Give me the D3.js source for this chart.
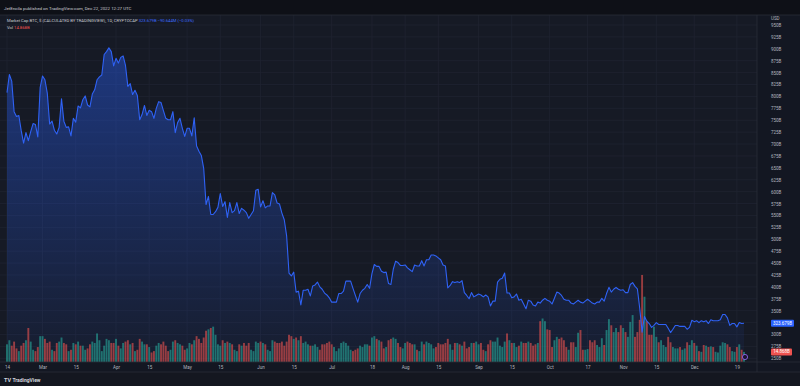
<!DOCTYPE html>
<html>
<head>
<meta charset="utf-8">
<script src="https://cdn.jsdelivr.net/npm/d3@7"></script>
<style>
  body { margin: 0; background: #131722; }
  text { font-family: Roboto, "Liberation Sans", sans-serif; }
</style>
</head>
<body>
<svg id="svgID" width="800" height="386"></svg>
<script>
// daily Market Cap BTC (in billions USD), 2022-02-14 .. 2022-12-22
var startDay = "2022-02-14";
var capFeb = [808, 846, 832, 768, 758, 760, 728, 702, 724, 707, 726, 743, 741, 715, 819];
var capMar = [843, 835, 807, 742, 748, 729, 721, 735, 795, 748, 735, 736, 717, 754, 746, 780, 776, 793, 801, 782, 778, 805, 814, 835, 841, 845, 888, 894, 902, 894, 864];
var capApr = [880, 870, 882, 885, 865, 821, 827, 804, 813, 802, 751, 762, 781, 760, 771, 768, 754, 775, 789, 787, 770, 754, 751, 751, 768, 724, 745, 754, 733, 716];
var capMay = [733, 733, 717, 755, 696, 685, 676, 649, 573, 590, 552, 552, 558, 567, 596, 569, 579, 546, 577, 556, 560, 577, 554, 565, 561, 556, 544, 552, 560, 603, 605];
var capJun = [568, 581, 566, 570, 570, 598, 593, 576, 574, 555, 541, 507, 429, 423, 431, 389, 391, 362, 393, 393, 395, 381, 402, 404, 410, 400, 395, 387, 383, 377];
var capJul = [368, 368, 368, 386, 386, 391, 412, 412, 412, 397, 382, 368, 386, 393, 397, 405, 397, 428, 447, 443, 443, 433, 430, 431, 407, 405, 437, 454, 451, 445, 445];
var capAug = [446, 440, 436, 432, 446, 444, 444, 455, 444, 457, 457, 467, 467, 465, 461, 457, 446, 444, 398, 403, 411, 409, 411, 409, 413, 388, 382, 375, 388, 379, 382];
var capSep = [385, 383, 379, 383, 379, 360, 370, 370, 410, 416, 418, 429, 387, 387, 377, 379, 385, 372, 374, 364, 354, 372, 370, 362, 360, 368, 366, 372, 376, 372];
var capOct = [370, 364, 376, 389, 387, 382, 374, 372, 372, 366, 364, 368, 372, 368, 366, 370, 374, 370, 366, 364, 368, 368, 376, 370, 386, 399, 389, 395, 399, 395, 393];
var capNov = [394, 388, 388, 405, 409, 401, 396, 355, 305, 338, 328, 323, 315, 319, 325, 321, 321, 321, 321, 313, 304, 311, 319, 319, 317, 317, 317, 311, 315, 330];
var capDec = [327, 329, 325, 329, 327, 329, 323, 331, 329, 329, 329, 331, 342, 342, 335, 319, 323, 323, 316, 325, 323, 323.679];

// daily volume (billions)
var volFeb = [26, 32, 24, 30, 20, 16, 24, 28, 32, 50, 30, 18, 16, 22, 38];
var volMar = [38, 34, 28, 30, 18, 16, 28, 30, 36, 28, 26, 16, 18, 28, 26, 30, 24, 24, 18, 20, 26, 30, 28, 42, 32, 16, 24, 34, 32, 28, 28];
var volApr = [34, 24, 20, 28, 30, 32, 26, 28, 16, 18, 34, 30, 26, 26, 22, 14, 16, 24, 28, 26, 30, 24, 16, 18, 30, 32, 28, 26, 24, 18];
var volMay = [20, 28, 26, 32, 38, 34, 28, 36, 46, 48, 50, 52, 40, 26, 24, 32, 28, 30, 28, 26, 18, 16, 26, 24, 28, 24, 28, 18, 16, 30, 28];
var volJun = [30, 28, 26, 18, 16, 32, 30, 28, 28, 30, 24, 30, 40, 38, 34, 36, 32, 38, 28, 30, 26, 24, 24, 26, 22, 18, 26, 26, 28, 30];
var volJul = [26, 22, 16, 20, 28, 30, 28, 24, 18, 16, 18, 20, 24, 22, 26, 26, 24, 36, 38, 34, 32, 30, 20, 22, 32, 34, 36, 34, 28, 22, 20];
var volAug = [28, 30, 28, 26, 26, 18, 16, 30, 26, 30, 28, 26, 20, 22, 28, 26, 26, 28, 34, 26, 18, 28, 28, 26, 24, 30, 20, 22, 28, 28, 30];
var volSep = [26, 28, 18, 16, 26, 32, 30, 30, 36, 24, 22, 30, 42, 32, 28, 28, 22, 24, 30, 28, 28, 30, 28, 24, 26, 28, 60, 64, 60, 48];
var volOct = [47, 22, 32, 37, 34, 36, 32, 22, 18, 29, 29, 22, 43, 47, 18, 18, 19, 32, 29, 32, 25, 22, 35, 25, 47, 63, 54, 44, 50, 44, 54];
var volNov = [50, 44, 37, 59, 69, 37, 44, 62, 128, 96, 60, 40, 40, 52, 37, 29, 32, 25, 22, 37, 29, 22, 20, 20, 22, 18, 20, 29, 25, 32];
var volDec = [28, 24, 16, 15, 25, 24, 22, 23, 22, 15, 14, 24, 29, 28, 26, 22, 16, 15, 22, 26, 18, 14.868];

var timeTicks = ["2022-02-14", "2022-03-01", "2022-03-15", "2022-04-01", "2022-04-15", "2022-05-01", "2022-05-15",
    "2022-06-01", "2022-06-15", "2022-07-01", "2022-07-18", "2022-08-01", "2022-08-15", "2022-09-01", "2022-09-15",
    "2022-10-01", "2022-10-17", "2022-11-01", "2022-11-15", "2022-12-01", "2022-12-19"];
var timeLabels = ["14", "Mar", "15", "Apr", "15", "May", "15", "Jun", "15", "Jul", "18", "Aug", "15", "Sep", "15",
    "Oct", "17", "Nov", "15", "Dec", "19"];
var priceTicks = [250, 275, 300, 325, 350, 375, 400, 425, 450, 475, 500, 525, 550, 575, 600, 625, 650, 675,
    700, 725, 750, 775, 800, 825, 850, 875, 900, 925, 950];

var caps = [].concat(capFeb, capMar, capApr, capMay, capJun, capJul, capAug, capSep, capOct, capNov, capDec);
var vols = [].concat(volFeb, volMar, volApr, volMay, volJun, volJul, volAug, volSep, volOct, volNov, volDec);
var parse = d3.utcParse("%Y-%m-%d");
var t0 = parse(startDay);
var data = caps.map(function(c, i) {
    return { date: d3.utcDay.offset(t0, i), cap: c, vol: vols[i], up: i === 0 ? true : c >= caps[i - 1] };
});

var svg = d3.select("#svgID"),
    W = 800, H = 386,
    plotTop = 15, plotBottom = 362, plotRight = 757;

var x = d3.scaleUtc()
    .domain([t0, data[data.length - 1].date])
    .range([7, 744]);
var y = d3.scaleLinear()
    .domain([250, 950])
    .range([358.3, 25]);
var yv = d3.scaleLinear()
    .domain([0, 150])
    .range([plotBottom, plotBottom - 102]);

// backgrounds
svg.append("rect").attr("width", W).attr("height", H).attr("fill", "#131722");
svg.append("rect").attr("width", W).attr("height", plotTop).attr("fill", "#0e1017");
svg.append("rect").attr("y", plotTop).attr("width", plotRight).attr("height", plotBottom - plotTop).attr("fill", "#161a25");
svg.append("rect").attr("y", 372).attr("width", W).attr("height", H - 372).attr("fill", "#141720");

var defs = svg.append("defs");
var grad = defs.append("linearGradient").attr("id", "areaFill")
    .attr("gradientUnits", "userSpaceOnUse")
    .attr("x1", 0).attr("x2", 0).attr("y1", 45).attr("y2", plotBottom);
grad.append("stop").attr("offset", "0%").attr("stop-color", "#2962ff").attr("stop-opacity", 0.42);
grad.append("stop").attr("offset", "100%").attr("stop-color", "#2962ff").attr("stop-opacity", 0.04);
defs.append("clipPath").attr("id", "plotClip").append("rect")
    .attr("x", 0).attr("y", plotTop).attr("width", plotRight).attr("height", plotBottom - plotTop);

var g = svg.append("g").attr("clip-path", "url(#plotClip)");

// grid
g.append("g").selectAll("line").data(priceTicks).enter().append("line")
    .attr("x1", 0).attr("x2", plotRight)
    .attr("y1", function(d) { return y(d); })
    .attr("y2", function(d) { return y(d); })
    .style("stroke", "#1f2331").style("stroke-width", 0.8);
g.append("g").selectAll("line").data(timeTicks).enter().append("line")
    .attr("x1", function(d) { return x(parse(d)); })
    .attr("x2", function(d) { return x(parse(d)); })
    .attr("y1", plotTop).attr("y2", plotBottom)
    .style("stroke", "#1f2331").style("stroke-width", 0.8);

// area + line
g.append("path").datum(data)
    .attr("fill", "url(#areaFill)")
    .attr("d", d3.area()
        .x(function(d) { return x(d.date); })
        .y0(plotBottom)
        .y1(function(d) { return y(d.cap); }));

// volume bars
var bw = 1.9;
g.append("g").selectAll("rect").data(data).enter().append("rect")
    .attr("x", function(d) { return x(d.date) - bw / 2; })
    .attr("width", bw)
    .attr("y", function(d) { return yv(d.vol); })
    .attr("height", function(d) { return plotBottom - yv(d.vol); })
    .attr("fill", function(d) { return d.up ? "#26a69a" : "#ef5350"; })
    .attr("fill-opacity", function(d) { return d.up ? 0.62 : 0.6; });

g.append("path").datum(data)
    .attr("fill", "none")
    .attr("stroke", "#2f62f5")
    .attr("stroke-width", 1.1)
    .attr("stroke-linejoin", "round")
    .attr("d", d3.line()
        .x(function(d) { return x(d.date); })
        .y(function(d) { return y(d.cap); }));

// event marker
svg.append("circle").attr("cx", 745).attr("cy", 357).attr("r", 2.6)
    .attr("fill", "#1b1530").attr("stroke", "#9c6bff").attr("stroke-width", 0.8);

// separators
svg.append("line").attr("x1", 0).attr("x2", W).attr("y1", plotTop).attr("y2", plotTop).style("stroke", "#2a2e39").style("stroke-width", 0.8);
svg.append("line").attr("x1", 0).attr("x2", W).attr("y1", plotBottom).attr("y2", plotBottom).style("stroke", "#2a2e39").style("stroke-width", 0.8);
svg.append("line").attr("x1", plotRight).attr("x2", plotRight).attr("y1", plotTop).attr("y2", 372).style("stroke", "#2a2e39").style("stroke-width", 0.8);
svg.append("line").attr("x1", 0).attr("x2", W).attr("y1", 372).attr("y2", 372).style("stroke", "#2a2e39").style("stroke-width", 0.8);

var last = data[data.length - 1];

// price axis (labels hidden under the last value badge are skipped)
var shownTicks = priceTicks.filter(function(d) { return Math.abs(y(d) - y(last.cap)) > 5; });
var yAxis = svg.append("g").attr("transform", "translate(768,0)")
    .call(d3.axisRight(y).tickValues(shownTicks).tickSize(0).tickPadding(3)
        .tickFormat(function(d) { return d + "B"; }));
yAxis.select(".domain").remove();
yAxis.selectAll("text").attr("fill", "#b2b5be").style("font-size", "4.5px")
    .style("font-family", "Roboto, sans-serif");
svg.append("text").attr("x", 771).attr("y", 20).attr("fill", "#b2b5be")
    .style("font-size", "4.5px").text("USD");

// time axis
var xAxis = svg.append("g").attr("transform", "translate(0," + plotBottom + ")")
    .call(d3.axisBottom(x).tickValues(timeTicks.map(parse)).tickSize(0).tickPadding(4)
        .tickFormat(function(d, i) { return timeLabels[i]; }));
xAxis.select(".domain").remove();
xAxis.selectAll("text").attr("fill", "#b2b5be").style("font-size", "4.5px")
    .style("font-family", "Roboto, sans-serif");

// last value labels
svg.append("rect").attr("x", 771).attr("y", y(last.cap) - 3.5).attr("width", 23).attr("height", 7)
    .attr("rx", 1).attr("fill", "#2962ff");
svg.append("text").attr("x", 782.5).attr("y", y(last.cap) + 1.6).attr("text-anchor", "middle")
    .attr("fill", "#ffffff").style("font-size", "4.5px").text("323.679B");
svg.append("rect").attr("x", 771).attr("y", yv(last.vol) - 3.5).attr("width", 21).attr("height", 7)
    .attr("rx", 1).attr("fill", "#ef5350");
svg.append("text").attr("x", 781.5).attr("y", yv(last.vol) + 1.6).attr("text-anchor", "middle")
    .attr("fill", "#ffffff").style("font-size", "4.5px").text("14.868B");

// header texts
svg.append("text").attr("x", 4).attr("y", 9.5).attr("fill", "#c9cbd2").style("font-size", "4.4px")
    .text("JetEncila published on TradingView.com, Dec 22, 2022 12:27 UTC");
var leg = svg.append("text").attr("x", 7).attr("y", 21.5).style("font-size", "4.2px");
leg.append("tspan").attr("fill", "#c9cbd2").text("Market Cap BTC, $ (CALCULATED BY TRADINGVIEW), 1D, CRYPTOCAP ");
leg.append("tspan").attr("fill", "#3d6bff").text("323.679B \u221290.644M (\u22120.03%)");
var leg2 = svg.append("text").attr("x", 7).attr("y", 28.5).style("font-size", "4.2px");
leg2.append("tspan").attr("fill", "#c9cbd2").text("Vol ");
leg2.append("tspan").attr("fill", "#ef5350").text("14.868B");

// logo
var logo = svg.append("text").attr("x", 4).attr("y", 381.5).attr("fill", "#d1d4dc").style("font-size", "5px");
logo.append("tspan").style("font-weight", "bold").style("font-size", "5.5px").text("TV ");
logo.append("tspan").style("font-weight", "bold").text("TradingView");
</script>
</body>
</html>
